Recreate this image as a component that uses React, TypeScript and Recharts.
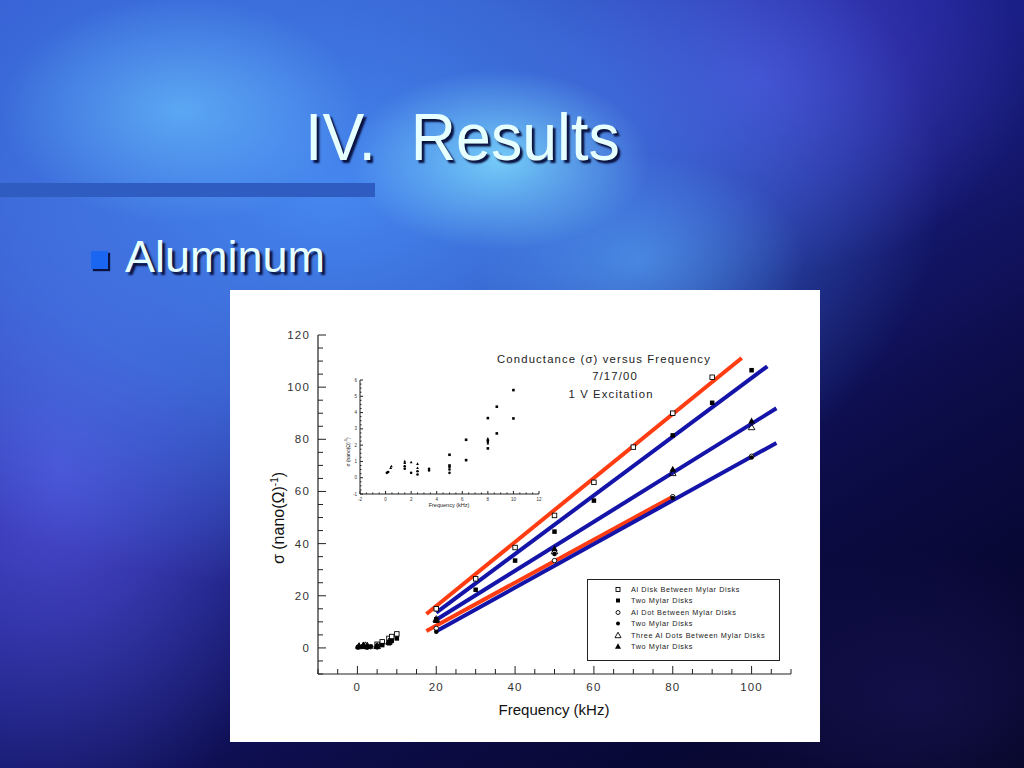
import React from 'react';
import { ComposedChart, ScatterChart, Scatter, XAxis, YAxis } from 'recharts';

// ---------- data ----------
const seriesNames = [
  'Al Disk Between Mylar Disks',
  'Two Mylar Disks',
  'Al Dot Between Mylar Disks',
  'Two Mylar Disks',
  'Three Al Dots Between Mylar Disks',
  'Two Mylar Disks',
];
const seriesKinds = ['sqOpen', 'sqFill', 'circOpen', 'circFill', 'triOpen', 'triFill'];

// low-frequency points (shown in main chart and in the inset)
const lowOpenSquare = [
  { x: 5, y: 1.41 }, { x: 6.3, y: 2.33 }, { x: 8, y: 3.66 }, { x: 8.7, y: 4.36 }, { x: 10, y: 5.38 },
];
const lowFilledSquare = [
  { x: 5, y: 0.75 }, { x: 6.3, y: 1.08 }, { x: 8, y: 1.8 }, { x: 8.7, y: 2.72 }, { x: 10, y: 3.64 },
];
const lowOpenCircle = [
  { x: 0.2, y: 0.35 }, { x: 1.5, y: 0.7 }, { x: 2.5, y: 0.4 }, { x: 3.4, y: 0.45 }, { x: 5, y: 0.5 }, { x: 8, y: 2.2 },
];
const lowFilledCircle = [
  { x: 0.1, y: 0.3 }, { x: 1.5, y: 0.55 }, { x: 2, y: 0.3 }, { x: 2.5, y: 0.2 }, { x: 3.4, y: 0.55 }, { x: 5, y: 0.3 }, { x: 8, y: 2.3 },
];
const lowOpenTriangle = [
  { x: 0.4, y: 0.6 }, { x: 1.5, y: 0.9 }, { x: 2, y: 0.95 }, { x: 2.5, y: 0.85 }, { x: 5, y: 0.65 }, { x: 8, y: 2.4 },
];
const lowFilledTriangle = [
  { x: 0.45, y: 0.7 }, { x: 1.5, y: 1.0 }, { x: 2.5, y: 0.6 }, { x: 5, y: 0.7 }, { x: 8, y: 2.1 },
];

// high-frequency points
const highOpenSquare = [
  { x: 20, y: 15 }, { x: 30, y: 26.5 }, { x: 40, y: 38.5 }, { x: 50, y: 50.8 }, { x: 60, y: 63.5 },
  { x: 70, y: 77 }, { x: 80, y: 90 }, { x: 90, y: 103.8 },
];
const highFilledSquare = [
  { x: 20, y: 11 }, { x: 30, y: 22.3 }, { x: 40, y: 33.5 }, { x: 50, y: 44.6 }, { x: 60, y: 56.5 },
  { x: 80, y: 81.5 }, { x: 90, y: 94 }, { x: 100, y: 106.5 },
];
const highOpenCircle = [{ x: 20, y: 7.5 }, { x: 50, y: 33.5 }, { x: 80, y: 58 }, { x: 100, y: 73.5 }];
const highFilledCircle = [{ x: 20, y: 6.2 }, { x: 50, y: 36 }, { x: 80, y: 57.5 }, { x: 100, y: 73 }];
const highOpenTriangle = [{ x: 20, y: 11 }, { x: 50, y: 37 }, { x: 80, y: 67 }, { x: 100, y: 84.6 }];
const highFilledTriangle = [{ x: 20, y: 10.5 }, { x: 50, y: 38 }, { x: 80, y: 68.5 }, { x: 100, y: 87 }];

// fitted lines
const fitOrangeTop = [{ x: 17.5, y: 13 }, { x: 97.5, y: 111.2 }];
const fitBlueTop = [{ x: 20, y: 13.5 }, { x: 104, y: 108 }];
const fitBlueMid = [{ x: 20, y: 10.8 }, { x: 106.3, y: 91.9 }];
const fitOrangeLow = [{ x: 17.5, y: 6.5 }, { x: 80, y: 58 }];
const fitBlueLow = [{ x: 20, y: 6.4 }, { x: 106.3, y: 78.6 }];

const mainXTicks = Array.from({ length: 25 }, (_, i) => -10 + i * 5);
const mainYTicks = Array.from({ length: 27 }, (_, i) => -10 + i * 5);
const insetXTicks = Array.from({ length: 29 }, (_, i) => -2 + i * 0.5);
const insetYTicks = Array.from({ length: 29 }, (_, i) => -1 + i * 0.25);

const ORANGE = '#ff3c12';
const BLUE = '#1414a8';
const FONT = '"Liberation Sans", Arial, sans-serif';

// ---------- marker shapes ----------
const makeShape = (kind: string, s: number) => (props: any) => {
  const { cx, cy } = props;
  if (cx == null || cy == null) return <g />;
  const h = s / 2;
  switch (kind) {
    case 'sqOpen':
      return <rect x={cx - h} y={cy - h} width={s} height={s} fill="#fff" stroke="#000" strokeWidth={0.9} />;
    case 'sqFill':
      return <rect x={cx - h} y={cy - h} width={s} height={s} fill="#000" />;
    case 'circOpen':
      return <circle cx={cx} cy={cy} r={h} fill="#fff" stroke="#000" strokeWidth={0.9} />;
    case 'circFill':
      return <circle cx={cx} cy={cy} r={h} fill="#000" />;
    case 'triOpen':
      return (
        <polygon points={`${cx},${cy - h * 1.2} ${cx - h * 1.1},${cy + h * 0.8} ${cx + h * 1.1},${cy + h * 0.8}`}
          fill="none" stroke="#000" strokeWidth={0.9} />
      );
    default:
      return (
        <polygon points={`${cx},${cy - h * 1.2} ${cx - h * 1.1},${cy + h * 0.8} ${cx + h * 1.1},${cy + h * 0.8}`}
          fill="#000" />
      );
  }
};
const noShape = () => <g />;

// ---------- tick renderers ----------
const mkTick = (side: 'bottom' | 'left' | 'top' | 'right', every: number, major: number, minor: number,
  fontSize: number, gap: number, spacing: number, fmt?: (v: number) => string) => (props: any) => {
  const { x, y, payload } = props;
  const v = payload.value;
  const isMajor = Math.abs(v / every - Math.round(v / every)) < 1e-6;
  const len = isMajor ? major : minor;
  const label = fmt ? fmt(v) : String(v);
  if (side === 'bottom') {
    return (
      <g>
        <line x1={x} x2={x} y1={y} y2={y - len} stroke="#222" strokeWidth={1} />
        {isMajor && fontSize > 0 && (
          <text x={x} y={y + gap} textAnchor="middle" fontSize={fontSize} fontFamily={FONT}
            fill="#333" letterSpacing={spacing}>{label}</text>
        )}
      </g>
    );
  }
  if (side === 'top') {
    return <line x1={x} x2={x} y1={y} y2={y + len} stroke="#222" strokeWidth={1} />;
  }
  if (side === 'left') {
    return (
      <g>
        <line x1={x} x2={x + len} y1={y} y2={y} stroke="#222" strokeWidth={1} />
        {isMajor && fontSize > 0 && (
          <text x={x - gap} y={y} textAnchor="end" dominantBaseline="central" fontSize={fontSize}
            fontFamily={FONT} fill="#333" letterSpacing={spacing}>{label}</text>
        )}
      </g>
    );
  }
  return <line x1={x} x2={x - len} y1={y} y2={y} stroke="#222" strokeWidth={1} />;
};

const mainSets = [
  [...lowOpenSquare, ...highOpenSquare],
  [...lowFilledSquare, ...highFilledSquare],
  [...lowOpenCircle, ...highOpenCircle],
  [...lowFilledCircle, ...highFilledCircle],
  [...lowOpenTriangle, ...highOpenTriangle],
  [...lowFilledTriangle, ...highFilledTriangle],
];
const insetSets = [lowOpenSquare, lowFilledSquare, lowOpenCircle, lowFilledCircle, lowOpenTriangle, lowFilledTriangle];
const mainSizes = [4.5, 4.5, 4.5, 4.5, 6, 6];

const fitLines = [
  { data: fitOrangeTop, color: ORANGE },
  { data: fitOrangeLow, color: ORANGE },
  { data: fitBlueTop, color: BLUE },
  { data: fitBlueMid, color: BLUE },
  { data: fitBlueLow, color: BLUE },
];

const axisLine = { stroke: '#222', strokeWidth: 1.2 };

function MainChart() {
  return (
    <ComposedChart width={590} height={452} margin={{ top: 45, right: 29, bottom: 38, left: 48 }}>
      <XAxis xAxisId="b" dataKey="x" type="number" domain={[-10, 110]} ticks={mainXTicks} interval={0}
        allowDataOverflow orientation="bottom" height={30} tickSize={0} tickMargin={0} tickLine={false}
        axisLine={axisLine} tick={mkTick('bottom', 20, 8, 5, 11.5, 17, 1.2)} />
      <XAxis xAxisId="t" dataKey="x" type="number" domain={[-10, 110]} ticks={mainXTicks} interval={0}
        allowDataOverflow orientation="top" height={0} tickSize={0} tickMargin={0} tickLine={false}
        axisLine={axisLine} tick={mkTick('top', 20, 8, 5, 0, 0, 0)} />
      <YAxis yAxisId="l" dataKey="y" type="number" domain={[-10, 120]} ticks={mainYTicks} interval={0}
        allowDataOverflow orientation="left" width={40} tickSize={0} tickMargin={0} tickLine={false}
        axisLine={axisLine} tick={mkTick('left', 20, 8, 5, 11.5, 8, 1.2)} />
      <YAxis yAxisId="r" dataKey="y" type="number" domain={[-10, 120]} ticks={mainYTicks} interval={0}
        allowDataOverflow orientation="right" width={0} tickSize={0} tickMargin={0} tickLine={false}
        axisLine={axisLine} tick={mkTick('right', 20, 8, 5, 0, 0, 0)} />
      {fitLines.map((l, i) => (
        <Scatter key={'l' + i} xAxisId="b" yAxisId="l" data={l.data} shape={noShape}
          line={{ stroke: l.color, strokeWidth: 4 }} isAnimationActive={false} legendType="none" />
      ))}
      {mainSets.map((d, i) => (
        <Scatter key={'s' + i} xAxisId="b" yAxisId="l" data={d} name={seriesNames[i]}
          shape={makeShape(seriesKinds[i], mainSizes[i])} isAnimationActive={false} />
      ))}
      {/* keep the top / right axes bound */}
      <Scatter xAxisId="t" yAxisId="r" data={fitBlueTop} shape={noShape} isAnimationActive={false} legendType="none" />
    </ComposedChart>
  );
}

function InsetChart() {
  const fmt = (v: number) => String(v);
  return (
    <ScatterChart width={210} height={140} margin={{ top: 5, right: 6, bottom: 9, left: 10 }}>
      <XAxis xAxisId="b" dataKey="x" type="number" domain={[-2, 12]} ticks={insetXTicks} interval={0}
        allowDataOverflow orientation="bottom" height={12} tickSize={0} tickMargin={0} tickLine={false}
        axisLine={{ stroke: '#222', strokeWidth: 1 }} tick={mkTick('bottom', 2, 3, 1.5, 4.5, 7, 0, fmt)} />
      <XAxis xAxisId="t" dataKey="x" type="number" domain={[-2, 12]} ticks={insetXTicks} interval={0}
        allowDataOverflow orientation="top" height={0} tickSize={0} tickMargin={0} tickLine={false}
        axisLine={{ stroke: '#222', strokeWidth: 1 }} tick={mkTick('top', 2, 3, 1.5, 0, 0, 0)} />
      <YAxis yAxisId="l" dataKey="y" type="number" domain={[-1, 6]} ticks={insetYTicks} interval={0}
        allowDataOverflow orientation="left" width={15} tickSize={0} tickMargin={0} tickLine={false}
        axisLine={{ stroke: '#222', strokeWidth: 1 }} tick={mkTick('left', 1, 3, 1.5, 4.5, 3, 0, fmt)} />
      <YAxis yAxisId="r" dataKey="y" type="number" domain={[-1, 6]} ticks={insetYTicks} interval={0}
        allowDataOverflow orientation="right" width={0} tickSize={0} tickMargin={0} tickLine={false}
        axisLine={{ stroke: '#222', strokeWidth: 1 }} tick={mkTick('right', 1, 3, 1.5, 0, 0, 0)} />
      {insetSets.map((d, i) => (
        <Scatter key={'i' + i} xAxisId="b" yAxisId="l" data={d} name={seriesNames[i]}
          shape={makeShape(seriesKinds[i].replace('Open', 'Fill'), 2.6)} isAnimationActive={false} />
      ))}
      <Scatter xAxisId="t" yAxisId="r" data={lowOpenSquare} shape={noShape} isAnimationActive={false} legendType="none" />
    </ScatterChart>
  );
}

function LegendBox() {
  return (
    <div style={{
      position: 'absolute', left: 357, top: 289, width: 193, height: 82, border: '1.3px solid #222',
      background: '#fff', boxSizing: 'border-box',
    }}>
      {seriesNames.map((n, i) => (
        <div key={i} style={{ position: 'absolute', left: 0, top: 4 + i * 11.4, height: 11, width: 190 }}>
          <svg width={12} height={11} style={{ position: 'absolute', left: 24, top: 0 }}>
            {makeShape(seriesKinds[i], seriesKinds[i].startsWith('tri') ? 5.5 : 4)({ cx: 6, cy: 5.5 })}
          </svg>
          <span style={{
            position: 'absolute', left: 43, top: 0, lineHeight: '11px', fontSize: 7.3, fontFamily: FONT,
            letterSpacing: 0.6, color: '#222', whiteSpace: 'nowrap',
          }}>{n}</span>
        </div>
      ))}
    </div>
  );
}

export default function App() {
  const bg = [
    'radial-gradient(ellipse 200px 120px at 500px 160px, rgba(130,225,255,0.8), rgba(130,225,255,0) 75%)',
    'radial-gradient(ellipse 240px 150px at 180px 110px, rgba(110,200,255,0.6), rgba(110,200,255,0) 75%)',
    'radial-gradient(ellipse 220px 140px at 640px 260px, rgba(90,170,250,0.55), rgba(90,170,250,0) 75%)',
    'radial-gradient(ellipse 720px 470px at 330px 190px, rgba(70,135,240,1), rgba(70,135,240,0.6) 45%, rgba(70,135,240,0) 85%)',
    'radial-gradient(ellipse 330px 460px at 60px 470px, rgba(80,80,215,0.9), rgba(80,80,215,0) 78%)',
    'radial-gradient(ellipse 360px 260px at 760px 80px, rgba(75,70,210,0.8), rgba(75,70,210,0) 75%)',
    'radial-gradient(ellipse 300px 200px at 920px 700px, rgba(30,25,100,0.5), rgba(30,25,100,0) 75%)',
    'linear-gradient(150deg, #3050c8 0%, #1c2290 40%, #0c0c48 70%, #040420 100%)',
  ].join(',');
  const textLight = '#e6ffff';
  const shadow = '3px 3px 2px #0a1240';
  return (
    <div style={{ position: 'absolute', left: 0, top: 0, width: 1024, height: 768, overflow: 'hidden', background: bg }}>
      {/* title */}
      <div style={{
        position: 'absolute', left: 305, top: 97, height: 80, fontFamily: FONT, fontSize: 66,
        color: textLight, textShadow: shadow, whiteSpace: 'pre', lineHeight: '80px',
        transform: 'scaleX(0.95)', transformOrigin: 'left center',
      }}>IV.  Results</div>
      {/* bar */}
      <div style={{ position: 'absolute', left: 0, top: 183, width: 375, height: 14, background: '#2e5cc0' }} />
      {/* bullet */}
      <div style={{
        position: 'absolute', left: 91, top: 251, width: 17, height: 18, background: '#1a66f0',
        boxShadow: '2px 2px 1px #0a1240',
      }} />
      <div style={{
        position: 'absolute', left: 125, top: 231, fontFamily: FONT, fontSize: 45, lineHeight: '52px',
        color: textLight, textShadow: shadow,
      }}>Aluminum</div>

      {/* chart panel */}
      <div style={{ position: 'absolute', left: 230, top: 290, width: 590, height: 452, background: '#fff' }}>
        <MainChart />
        {/* chart title */}
        {[
          { t: 'Conductance (\u03c3) versus Frequency', cx: 374, y: 62 },
          { t: '7/17/00', cx: 385, y: 79 },
          { t: '1 V Excitation', cx: 381, y: 97 },
        ].map((r, i) => (
          <div key={i} style={{
            position: 'absolute', left: r.cx - 150, width: 300, top: r.y, textAlign: 'center',
            fontFamily: FONT, fontSize: 11.3, letterSpacing: 1.15, color: '#222', lineHeight: '14px',
          }}>{r.t}</div>
        ))}
        {/* axis labels */}
        <div style={{
          position: 'absolute', left: 174, width: 300, top: 411, textAlign: 'center', fontFamily: FONT,
          fontSize: 15, color: '#111', lineHeight: '18px',
        }}>Frequency (kHz)</div>
        <div style={{
          position: 'absolute', left: 45 - 100, top: 228 - 10, width: 200, height: 20, textAlign: 'center',
          fontFamily: FONT, fontSize: 16, color: '#111', lineHeight: '20px', transform: 'rotate(-90deg)',
          whiteSpace: 'nowrap',
        }}>{'\u03c3 (nano(\u03a9)'}<sup style={{ fontSize: 10 }}>-1</sup>{')'}</div>

        {/* inset */}
        <div style={{ position: 'absolute', left: 105, top: 85, width: 210, height: 140 }}>
          <InsetChart />
          <div style={{
            position: 'absolute', left: 14, width: 200, top: 127, textAlign: 'center', fontFamily: FONT,
            fontSize: 5.5, color: '#222', lineHeight: '7px',
          }}>Frequency (kHz)</div>
          <div style={{
            position: 'absolute', left: 11 - 40, top: 73, width: 80, height: 8, textAlign: 'center',
            fontFamily: FONT, fontSize: 5, color: '#222', lineHeight: '8px', transform: 'rotate(-90deg)',
            whiteSpace: 'nowrap',
          }}>{'\u03c3 (nano(\u03a9)'}<sup style={{ fontSize: 3.5 }}>-1</sup>{')'}</div>
        </div>
        <LegendBox />
      </div>
    </div>
  );
}
